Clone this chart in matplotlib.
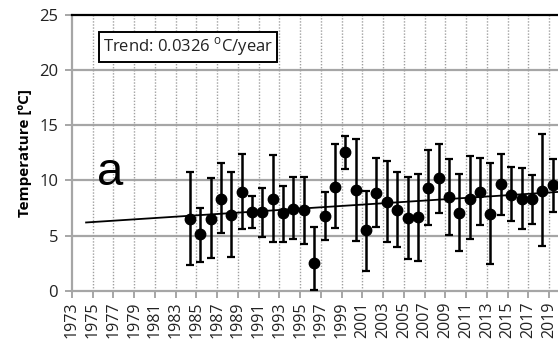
import numpy as np
import matplotlib
matplotlib.use("Agg")
import matplotlib.pyplot as plt

plt.rcParams["font.family"] = ["Open Sans", "DejaVu Sans"]
plt.rcParams["mathtext.fontset"] = "custom"
plt.rcParams["mathtext.rm"] = "Open Sans"

# Annual mean temperature with error bars (upper / lower limits)
years = list(range(1984, 2020))
temps = [6.53, 5.14, 6.53, 8.29, 6.89, 8.95, 7.13, 7.13, 8.29, 7.02,
         7.44, 7.32, 2.54, 6.77, 9.43, 12.57, 9.13, 5.50, 8.89, 8.07,
         7.32, 6.59, 6.65, 9.31, 10.19, 8.46, 7.07, 8.34, 8.95, 6.95,
         9.65, 8.65, 8.34, 8.29, 9.07, 9.56]
upper = [10.79, 7.47, 10.19, 11.55, 10.79, 12.37, 8.59, 9.28, 12.30, 9.49,
         10.34, 10.34, 5.75, 8.92, 13.27, 14.05, 13.73, 9.04, 12.06, 11.79,
         10.73, 10.34, 10.58, 12.78, 13.27, 11.91, 10.58, 12.24, 12.06, 11.60,
         12.39, 11.19, 11.10, 10.49, 14.21, 11.94]
lower = [2.30, 2.57, 2.94, 5.20, 3.03, 5.62, 5.71, 4.90, 4.44, 4.44,
         4.69, 4.23, 0.05, 4.60, 5.71, 11.03, 4.51, 1.81, 5.80, 4.44,
         3.99, 2.87, 2.72, 5.93, 7.07, 5.05, 3.60, 4.66, 5.93, 2.39,
         6.86, 6.32, 5.59, 6.07, 4.05, 7.16]
trend_span = [1974, 2020]
trend_label = "Trend: 0.0326 $^{\\mathrm{o}}$C/year"
x_tick_years = list(range(1973, 2020, 2))
y_ticks = [0, 5, 10, 15, 20, 25]

# points sit inside each year's slot, a little past the year tick
slot = 0.36
x = np.array(years) + slot
t = np.array(temps)
err = np.vstack([t - np.array(lower), np.array(upper) - t])

fig = plt.figure(figsize=(5.58, 3.45), dpi=100)
ax = fig.add_axes([0.129, 0.1574, 0.871, 0.7991])

ax.set_xlim(1973, 2019.87)
ax.set_ylim(0, 25)

# horizontal grid
for yv in y_ticks[1:-1]:
    ax.axhline(yv, color="#a6a6a6", lw=1.6, zorder=1)
# vertical dotted grid on labelled years
for xv in x_tick_years[1:]:
    ax.axvline(xv, color="#a0a0a0", lw=1.0, ls=(0, (1, 1.2)), zorder=1)

# linear trend from the annual values
coef = np.polyfit(x, t, 1)
tx = np.array(trend_span) + slot
ax.plot(tx, np.polyval(coef, tx), color="black", lw=1.3, zorder=3)

ax.errorbar(x, t, yerr=err, fmt="o", color="black", ms=7.5, elinewidth=1.8,
            capsize=3.2, capthick=1.6, zorder=4, clip_on=True)

for side in ["left", "bottom"]:
    ax.spines[side].set_color("#a6a6a6")
    ax.spines[side].set_linewidth(1.6)
ax.spines["top"].set_color("black")
ax.spines["top"].set_linewidth(1.6)
ax.spines["right"].set_visible(False)

ax.set_xticks(x_tick_years)
ax.set_xticklabels([str(v) for v in x_tick_years], rotation=90, fontsize=11.5)
ax.set_yticks(y_ticks)
ax.set_yticklabels([str(v) for v in y_ticks], fontsize=12)
ax.tick_params(axis="both", color="#a6a6a6", width=1.4, length=5, pad=3,
               labelcolor="#222222")
ax.tick_params(axis="y", pad=5)

ax.set_ylabel("Temperature [\u00baC]", fontsize=11, fontweight="bold",
              labelpad=5)

ax.text(0.064, 0.884, trend_label, transform=ax.transAxes, fontsize=12,
        va="center", ha="left", color="#222222", zorder=6,
        bbox=dict(boxstyle="square,pad=0.22", fc="white", ec="black", lw=1.4))

ax.text(0.052, 0.383, "a", transform=ax.transAxes, fontsize=34,
        family="Liberation Sans", ha="left", va="baseline", color="black",
        zorder=6)

fig.savefig("out.png", dpi=100)
